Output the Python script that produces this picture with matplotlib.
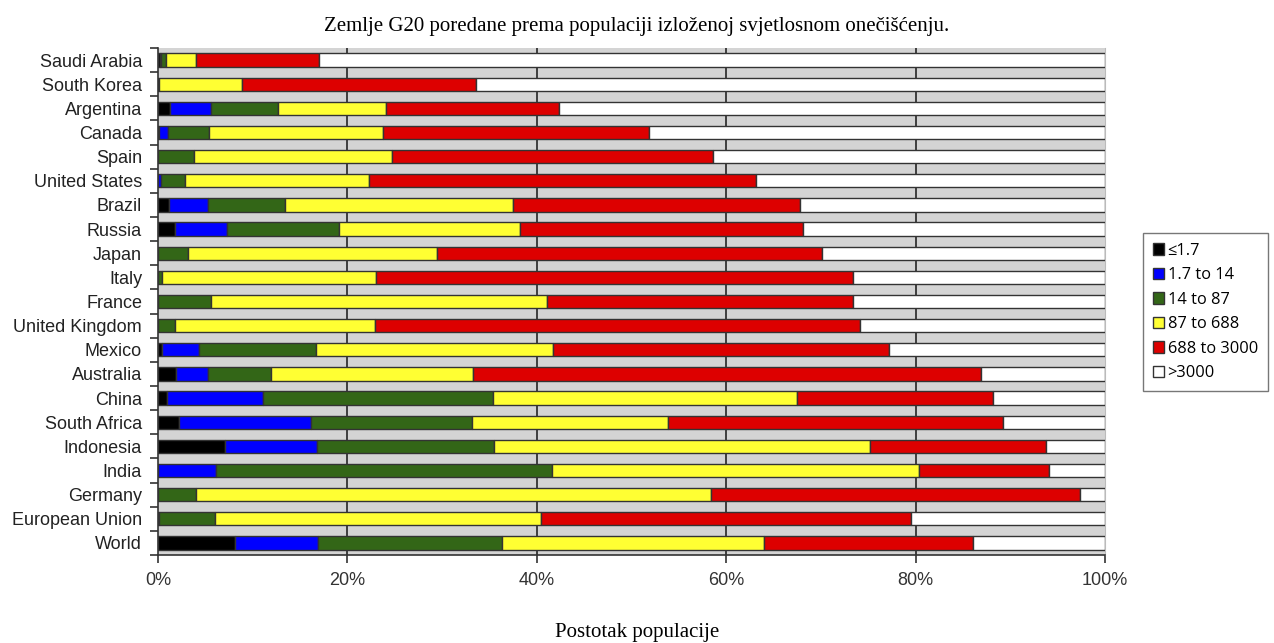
import numpy as np
import matplotlib.pyplot as plt
from matplotlib.ticker import FuncFormatter

# countries from top to bottom as drawn
countries = ['Saudi Arabia', 'South Korea', 'Argentina', 'Canada', 'Spain',
             'United States', 'Brazil', 'Russia', 'Japan', 'Italy', 'France',
             'United Kingdom', 'Mexico', 'Australia', 'China', 'South Africa',
             'Indonesia', 'India', 'Germany', 'European Union', 'World']

# cumulative right edge (%) of each band
cum_le_1_7 = [0.2, 0.0, 1.3, 0.1, 0.0, 0.0, 1.2, 1.8, 0.0, 0.0, 0.0,
              0.0, 0.4, 1.9, 0.9, 2.2, 7.1, 0.0, 0.0, 0.0, 8.1]
cum_1_7_14 = [0.3, 0.0, 5.6, 1.1, 0.0, 0.3, 5.3, 7.3, 0.0, 0.0, 0.0,
              0.0, 4.3, 5.3, 11.1, 16.2, 16.8, 6.1, 0.0, 0.1, 16.9]
cum_14_87 = [0.8, 0.1, 12.7, 5.4, 3.8, 2.9, 13.4, 19.1, 3.2, 0.4, 5.6,
             1.8, 16.7, 11.9, 35.4, 33.2, 35.5, 41.6, 4.05, 6.0, 36.3]
cum_87_688 = [4.0, 8.9, 24.1, 23.8, 24.7, 22.3, 37.5, 38.2, 29.5, 23.0, 41.1,
              22.9, 41.7, 33.3, 67.5, 53.9, 75.2, 80.4, 58.4, 40.4, 64.0]
cum_688_3000 = [17.0, 33.6, 42.3, 51.8, 58.6, 63.1, 67.8, 68.1, 70.1, 73.4, 73.4,
                74.1, 77.2, 86.9, 88.2, 89.2, 93.8, 94.1, 97.4, 79.5, 86.1]
cum_gt_3000 = [100.0] * 21

labels = ['\u22641.7', '1.7 to 14', '14 to 87', '87 to 688', '688 to 3000', '>3000']
colors = ['#000000', '#0000ff', '#336617', '#ffff33', '#dd0000', '#ffffff']


def main():
    cum = np.array([cum_le_1_7, cum_1_7_14, cum_14_87, cum_87_688,
                    cum_688_3000, cum_gt_3000])
    starts = np.vstack([np.zeros(len(countries)), cum[:-1]])
    widths = cum - starts

    fig = plt.figure(figsize=(12.74, 6.43), dpi=100)
    ax = fig.add_axes([158 / 1274, 1 - 555 / 643, (1105 - 158) / 1274, (555 - 48) / 643])
    ax.set_facecolor('#d4d4d4')

    y = np.arange(len(countries))[::-1]
    handles = []
    for i in range(len(labels)):
        h = ax.barh(y, widths[i], left=starts[i], height=0.55, color=colors[i],
                    edgecolor='#333333', linewidth=1.0, label=labels[i], zorder=3)
        handles.append(h)

    ax.set_xlim(0, 100)
    ax.set_ylim(-0.5, len(countries) - 0.5)
    ax.set_xticks([0, 20, 40, 60, 80, 100])
    ax.xaxis.set_major_formatter(FuncFormatter(lambda v, p: f'{v:.0f}%'))
    for xv in [20, 40, 60, 80]:
        ax.axvline(xv, color='#333333', linewidth=1.3, zorder=1)

    ax.set_yticks(y)
    ax.set_yticklabels(countries, fontsize=13, family='Liberation Sans', color='#222222')
    ax.set_yticks(np.arange(len(countries) + 1) - 0.5, minor=True)
    ax.tick_params(axis='y', which='major', length=0, pad=11.5)
    ax.tick_params(axis='y', which='minor', length=6, color='#333333', width=1.2)
    ax.tick_params(axis='x', length=6, color='#333333', width=1.2, pad=6,
                   labelsize=13, labelcolor='#333333')
    for lab in ax.get_xticklabels():
        lab.set_family('Liberation Sans')

    ax.spines['left'].set_color('#333333')
    ax.spines['bottom'].set_color('#333333')
    ax.spines['left'].set_linewidth(1.2)
    ax.spines['bottom'].set_linewidth(1.2)
    ax.spines['top'].set_visible(False)
    ax.spines['right'].set_color('#bbbbbb')

    fig.text(0.5, 1 - 27 / 643, 'Zemlje G20 poredane prema populaciji izloženoj svjetlosnom onečišćenju.',
             ha='center', va='center', fontsize=15, family='Liberation Serif')
    fig.text(0.5, 1 - 632 / 643, 'Postotak populacije', ha='center', va='center',
             fontsize=15, family='Liberation Serif')

    leg = fig.legend(handles=handles, loc='center left',
                     bbox_to_anchor=(1143 / 1274, 1 - 312 / 643), frameon=True,
                     fancybox=False, edgecolor='#555555', handlelength=0.7,
                     handleheight=0.7, handletextpad=0.2, labelspacing=0.52,
                     borderpad=0.6, borderaxespad=0,
                     prop={'family': 'Open Sans', 'size': 11.8})
    leg.get_frame().set_linewidth(1.0)

    fig.savefig('out.png', dpi=100, facecolor='white')


if __name__ == '__main__':
    main()
